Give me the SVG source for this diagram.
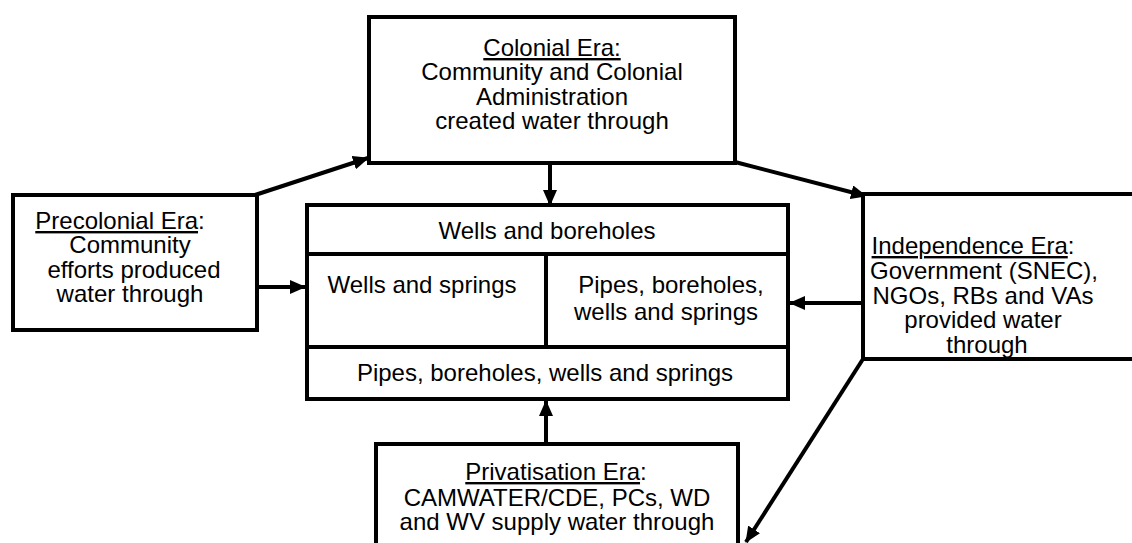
<svg xmlns="http://www.w3.org/2000/svg" width="1132" height="543" viewBox="0 0 1132 543">
<style>
.box{fill:#fff;stroke:#000;stroke-width:4}
.div{stroke:#000;stroke-width:4;fill:none}
.t{font-family:"Liberation Sans",Arial,sans-serif;font-size:24px;fill:#000;text-anchor:middle}
.u{text-decoration:underline}
.c{stroke:#000;stroke-width:4;fill:none;marker-end:url(#ah)}
</style>
<defs>
<marker id="ah" markerUnits="userSpaceOnUse" markerWidth="16" markerHeight="14" viewBox="0 0 16 14" refX="15" refY="7" orient="auto">
<path d="M0,0 L16,7 L0,14 z" fill="#000"/>
</marker>
</defs>
<rect width="1132" height="543" fill="#fff"/>
<g id="connectors">
<line class="c" x1="255" y1="195" x2="368" y2="158"/>
<line class="c" x1="735" y1="162" x2="866" y2="196"/>
<line class="c" x1="550" y1="163" x2="550" y2="205"/>
<line class="c" x1="257" y1="287" x2="305" y2="287"/>
<line class="c" x1="863" y1="303" x2="790" y2="303"/>
<line class="c" x1="546" y1="444" x2="546" y2="401"/>
<line class="c" x1="863" y1="359" x2="746" y2="542"/>
</g>
<g id="colonial">
<rect class="box" x="369" y="17" width="366" height="146"/>
<text class="t" x="552" y="56"><tspan class="u">Colonial Era:</tspan></text>
<text class="t" x="552" y="80">Community and Colonial</text>
<text class="t" x="552" y="105">Administration</text>
<text class="t" x="552" y="129">created water through</text>
</g>
<g id="precolonial">
<rect class="box" x="13" y="195" width="244" height="135"/>
<text class="t" x="120" y="229"><tspan class="u">Precolonial Era</tspan>:</text>
<text class="t" x="130" y="253">Community</text>
<text class="t" x="134" y="278">efforts produced</text>
<text class="t" x="130" y="302">water through</text>
</g>
<g id="central">
<rect class="box" x="307" y="205" width="481" height="194"/>
<line class="div" x1="307" y1="254" x2="788" y2="254"/>
<line class="div" x1="307" y1="347" x2="788" y2="347"/>
<line class="div" x1="546" y1="254" x2="546" y2="347"/>
<text class="t" x="547" y="239">Wells and boreholes</text>
<text class="t" x="422" y="293">Wells and springs</text>
<text class="t" x="671" y="293">Pipes, boreholes,</text>
<text class="t" x="666" y="320">wells and springs</text>
<text class="t" x="545" y="381">Pipes, boreholes, wells and springs</text>
</g>
<g id="independence">
<rect class="box" x="863" y="194" width="290" height="165"/>
<text class="t" x="973" y="254"><tspan class="u">Independence Era</tspan>:</text>
<text class="t" x="984" y="279">Government (SNEC),</text>
<text class="t" x="983" y="304">NGOs, RBs and VAs</text>
<text class="t" x="983" y="328">provided water</text>
<text class="t" x="987" y="353">through</text>
</g>
<g id="privatisation">
<rect class="box" x="376" y="444" width="362" height="120"/>
<text class="t" x="556" y="480"><tspan class="u">Privatisation Era</tspan>:</text>
<text class="t" x="557" y="506">CAMWATER/CDE, PCs, WD</text>
<text class="t" x="557" y="530">and WV supply water through</text>
</g>
</svg>
